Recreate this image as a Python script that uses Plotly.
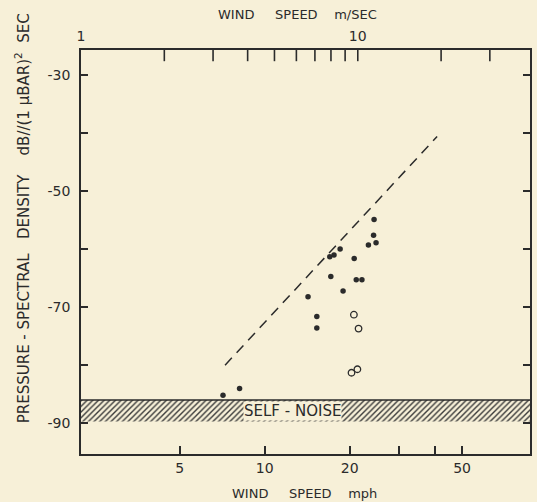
import math
import plotly.graph_objects as go

# ---- data ----
x_min_mph = 2.237          # 1 m/s
x_max_mph = 87.0
top_min_ms, top_max_ms = 1.0, 41.9
y_min, y_max = -95.3, -25.7

filled_mph = [24.4, 24.3, 24.8, 23.3, 18.5, 17.0, 17.6, 20.75, 17.15, 21.1, 22.1, 18.95, 14.24, 15.3, 15.3, 8.15, 7.12]
filled_db = [-54.9, -57.6, -58.9, -59.3, -60.0, -61.3, -61.0, -61.6, -64.7, -65.3, -65.3, -67.2, -68.2, -71.6, -73.6, -84.0, -85.2]

open_mph = [20.7, 21.5, 20.3, 21.3]
open_db = [-71.3, -73.7, -81.3, -80.7]

trend_mph = [7.24, 40.8]
trend_db = [-80.0, -40.6]

noise_top, noise_bottom = -86.0, -89.7

bottom_tickvals = [5, 10, 20, 30, 40, 50]
bottom_ticktext = ["5", "10", "20", " ", " ", "50"]
top_tickvals = [1, 2, 3, 4, 5, 6, 7, 8, 9, 10, 20, 30]
top_ticktext = ["1", " ", " ", " ", " ", " ", " ", " ", " ", "10", " ", " "]
y_tickvals = [-90, -80, -70, -60, -50, -40, -30]
y_ticktext = ["-90", " ", "-70", " ", "-50", " ", "-30"]

BG = "#f7f0d8"
INK = "#2b2b2b"
FONT = "DejaVu Sans"
NB = "\u00a0"

fig = go.Figure()

# self-noise band
fig.add_trace(go.Scatter(
    x=[x_min_mph, x_max_mph, x_max_mph, x_min_mph, x_min_mph],
    y=[noise_top, noise_top, noise_bottom, noise_bottom, noise_top],
    mode="lines", fill="toself", line=dict(width=0),
    fillcolor=BG,
    fillpattern=dict(shape="/", size=4, solidity=0.35, fgcolor="#3a3a3a", bgcolor=BG, fillmode="replace"),
    hoverinfo="skip", showlegend=False))
fig.add_trace(go.Scatter(
    x=[x_min_mph, x_max_mph], y=[noise_top, noise_top], mode="lines",
    line=dict(color=INK, width=1.4), showlegend=False, hoverinfo="skip"))

# dashed trend
fig.add_trace(go.Scatter(
    x=trend_mph, y=trend_db, mode="lines",
    line=dict(color=INK, width=1.5, dash="10px,7px"), showlegend=False))

fig.add_trace(go.Scatter(
    x=filled_mph, y=filled_db, mode="markers",
    marker=dict(size=5.5, color=INK), showlegend=False))
fig.add_trace(go.Scatter(
    x=open_mph, y=open_db, mode="markers",
    marker=dict(size=6.5, color="rgba(0,0,0,0)", line=dict(color=INK, width=1.3)), showlegend=False))

# top (m/s) axis tick marks, drawn on the top axis scale and clipped to the plot area
fig.add_trace(go.Scatter(
    x=top_tickvals[1:], y=[y_max] * (len(top_tickvals) - 1),
    xaxis="x2", mode="markers", cliponaxis=True,
    marker=dict(symbol="line-ns-open", size=16, color=INK, line=dict(color=INK, width=1.6)),
    showlegend=False, hoverinfo="skip"))

fig.update_layout(
    width=537, height=502,
    margin=dict(l=81, r=5, t=50, b=48),
    paper_bgcolor=BG, plot_bgcolor=BG,
    font=dict(family=FONT, size=14, color=INK),
    xaxis=dict(type="log", range=[math.log10(x_min_mph), math.log10(x_max_mph)],
               tickvals=bottom_tickvals, ticktext=bottom_ticktext, tickangle=0,
               ticks="inside", ticklen=8, tickwidth=1.5, tickcolor=INK,
               showline=True, linecolor=INK, linewidth=1.6, showgrid=False, zeroline=False,
               mirror=True, tickfont=dict(size=14)),
    xaxis2=dict(type="log", overlaying="x", side="top",
                range=[math.log10(top_min_ms), math.log10(top_max_ms)],
                tickvals=top_tickvals, ticktext=top_ticktext, tickangle=0,
                ticks="", showline=False, showgrid=False, zeroline=False,
                tickfont=dict(size=14), ticklabelstandoff=5),
    yaxis=dict(range=[y_min, y_max], tickvals=y_tickvals, ticktext=y_ticktext,
               ticks="inside", ticklen=7, tickwidth=1.5, tickcolor=INK,
               showline=True, linecolor=INK, linewidth=1.6, mirror="ticks",
               showgrid=False, zeroline=False, tickfont=dict(size=14),
               ticklabelstandoff=6),
    showlegend=False,
    annotations=[
        dict(text="SELF - NOISE", x=0.472, y=(noise_top + noise_bottom) / 2, xref="paper", yref="y",
             xanchor="center", yanchor="middle",
             showarrow=False, bgcolor=BG, font=dict(size=15, color=INK), borderpad=0),
        dict(text="WIND" + NB * 5 + "SPEED" + NB * 4 + "m/SEC", x=0.483, y=(454 - 15) / 404,
             xref="paper", yref="paper", xanchor="center", yanchor="middle",
             showarrow=False, font=dict(size=13)),
        dict(text="WIND" + NB * 5 + "SPEED" + NB * 4 + "mph", x=0.497, y=(454 - 493) / 404,
             xref="paper", yref="paper", xanchor="center", yanchor="middle",
             showarrow=False, font=dict(size=13)),
        dict(text="PRESSURE - SPECTRAL" + NB * 3 + "DENSITY" + NB * 4 + "dB//(1 μBAR)<sup>2</sup>" + NB * 2 + "SEC",
             x=(22 - 81) / 451, y=(454 - 218) / 404, xref="paper", yref="paper", textangle=-90,
             xanchor="center", yanchor="middle",
             showarrow=False, font=dict(size=15)),
    ],
)

fig.write_html("out.html", config={"displayModeBar": False},
               post_script="document.body.style.margin='0';document.body.style.background='%s';" % BG)
